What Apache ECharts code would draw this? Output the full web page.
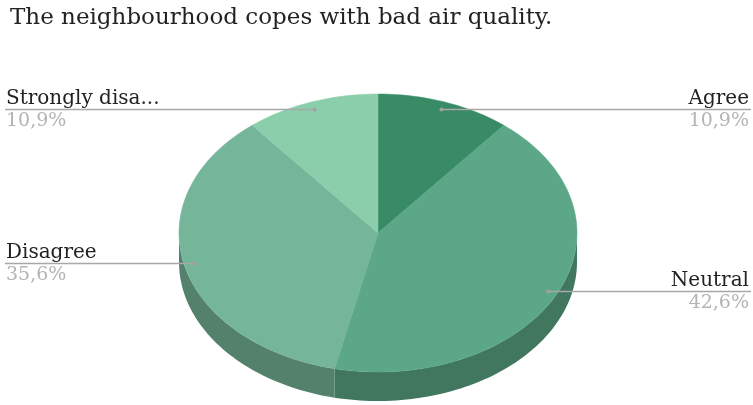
<!DOCTYPE html>
<html>
<head>
<meta charset="utf-8">
<script src="https://cdn.jsdelivr.net/npm/echarts@6/dist/echarts.min.js"></script>
<style>
  html, body { margin: 0; padding: 0; background: #fff; }
  #chart { width: 753px; height: 405px; }
</style>
</head>
<body>
<div id="chart"></div>
<script>
// Survey answers, clockwise from 12 o'clock
const categories = ['Agree', 'Neutral', 'Disagree', 'Strongly disagree'];
const shownNames = ['Agree', 'Neutral', 'Disagree', 'Strongly disa...'];
const values = [10.9, 42.6, 35.6, 10.9];
const percentLabels = ['10,9%', '42,6%', '35,6%', '10,9%'];

const topColors = ['#388b65', '#5ca788', '#75b59a', '#8bceab'];
const sideColors = ['#2a6b4d', '#41775f', '#53816b', '#6a9e84'];

// Tilted-disc geometry
const CX = 378, CY = 233, RX = 199, RY = 139, DEPTH = 29;
const W = 753;
const FONT = '"DejaVu Serif", Georgia, serif';

const total = values.reduce((a, b) => a + b, 0);

function pt(t, r, dy) {
  const a = t * Math.PI * 2;
  return [CX + RX * r * Math.sin(a), CY - RY * r * Math.cos(a) + (dy || 0)];
}

function arc(t0, t1, r, dy) {
  const pts = [];
  const n = Math.max(2, Math.ceil((t1 - t0) * 240));
  for (let i = 0; i <= n; i++) pts.push(pt(t0 + (t1 - t0) * i / n, r, dy));
  return pts;
}

function renderItem(params, api) {
  const idx = params.dataIndex;
  let start = 0;
  for (let i = 0; i < idx; i++) start += values[i];
  const t0 = start / total;
  const t1 = (start + api.value(0)) / total;
  const children = [];

  // front wall (visible half of the rim)
  const s0 = Math.max(t0, 0.25), s1 = Math.min(t1, 0.75);
  if (s1 > s0) {
    const upper = arc(s0, s1, 1, 0);
    const lower = arc(s0, s1, 1, DEPTH).reverse();
    children.push({
      type: 'polygon',
      shape: { points: upper.concat(lower) },
      style: { fill: sideColors[idx] }
    });
  }

  // top face
  children.push({
    type: 'polygon',
    shape: { points: [[CX, CY]].concat(arc(t0, t1, 1, 0)) },
    style: { fill: topColors[idx], stroke: topColors[idx], lineWidth: 0.5 }
  });

  // leader line + labels
  const anchor = pt((t0 + t1) / 2, 0.95, 0);
  const left = anchor[0] < CX;
  const edgeX = left ? 5 : W - 2;
  const textX = left ? 6 : W - 4;
  const ly = Math.round(anchor[1]) + 0.5;
  children.push({
    type: 'line',
    shape: { x1: anchor[0], y1: ly, x2: edgeX, y2: ly },
    style: { stroke: '#a8a8a8', lineWidth: 1.5 }
  });
  children.push({
    type: 'circle',
    shape: { cx: anchor[0], cy: ly, r: 2 },
    style: { fill: '#a0a0a0' }
  });
  children.push({
    type: 'text',
    style: {
      text: shownNames[idx], x: textX, y: ly - 1,
      fill: '#222222', font: '20px ' + FONT,
      align: left ? 'left' : 'right', verticalAlign: 'bottom'
    }
  });
  children.push({
    type: 'text',
    style: {
      text: percentLabels[idx], x: textX, y: ly + 2,
      fill: '#b3b3b3', font: '19px ' + FONT,
      align: left ? 'left' : 'right', verticalAlign: 'top'
    }
  });

  return { type: 'group', children: children };
}

const chart = echarts.init(document.getElementById('chart'), null, { renderer: 'canvas' });
chart.setOption({
  animation: false,
  backgroundColor: '#ffffff',
  title: {
    text: 'The neighbourhood copes with bad air quality.',
    left: 5,
    top: 2,
    textStyle: { fontFamily: FONT, fontSize: 23, fontWeight: 'normal', color: '#222222' }
  },
  series: [{
    type: 'custom',
    coordinateSystem: 'none',
    renderItem: renderItem,
    data: values.map((v, i) => ({ name: categories[i], value: [v] }))
  }]
});
</script>
</body>
</html>
